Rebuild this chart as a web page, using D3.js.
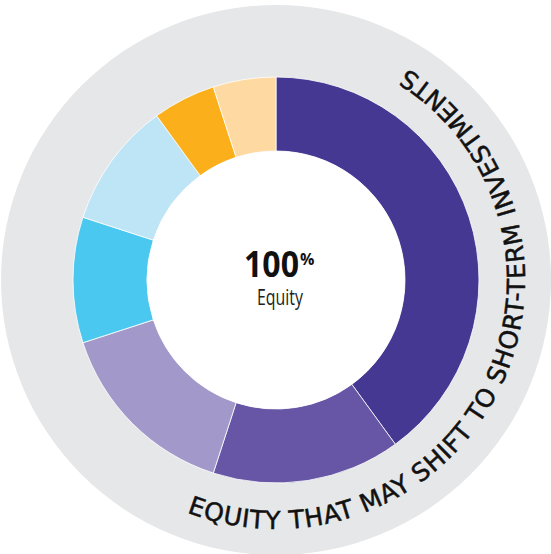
<!DOCTYPE html>
<html>
<head>
<meta charset="utf-8">
<script src="https://cdn.jsdelivr.net/npm/d3@7"></script>
<style>
  html, body { margin: 0; padding: 0; background: #ffffff; }
  svg { display: block; }
</style>
</head>
<body>
<script>
// ---- data ----
const categories = ["Segment 1", "Segment 2", "Segment 3", "Segment 4", "Segment 5", "Segment 6", "Segment 7"];
const values = [40, 15, 15, 10, 10, 5, 5];
const colors = ["#443892", "#6755a5", "#a299ca", "#4bc8ef", "#bde5f6", "#fbaf1a", "#fed9a2"];
const centerValue = "100";
const centerUnit = "%";
const centerLabel = "Equity";
const ringLabel = "EQUITY THAT MAY SHIFT TO SHORT-TERM INVESTMENTS";

// ---- layout ----
const W = 551, H = 554;
const cx = 276, cy = 280;
const bgR = 275, outerR = 203, innerR = 129, textR = 249;
const ringFont = "'DejaVu Sans', sans-serif", ringSize = 25;

const svg = d3.select("body").append("svg").attr("width", W).attr("height", H);
const g = svg.append("g").attr("transform", `translate(${cx},${cy})`);

g.append("circle").attr("r", bgR).attr("fill", "#e6e7e8");

const pie = d3.pie().sort(null).value(d => d.value).startAngle(0).endAngle(2 * Math.PI);
const arc = d3.arc().innerRadius(innerR).outerRadius(outerR);
const data = categories.map((c, i) => ({ name: c, value: values[i], color: colors[i] }));

g.selectAll("path.slice").data(pie(data)).join("path")
  .attr("class", "slice")
  .attr("d", arc)
  .attr("fill", d => d.data.color)
  .attr("stroke", "#ffffff")
  .attr("stroke-width", 0.8);

g.append("circle").attr("r", innerR).attr("fill", "#ffffff");

// center text
g.append("text")
  .attr("x", -32).attr("y", -3)
  .attr("font-family", "'Open Sans', sans-serif")
  .attr("font-weight", 700)
  .attr("font-size", 35)
  .attr("fill", "#111")
  .attr("textLength", 55)
  .attr("lengthAdjust", "spacingAndGlyphs")
  .text(centerValue);
g.append("text")
  .attr("x", 24).attr("y", -15)
  .attr("font-family", "'Open Sans', sans-serif")
  .attr("font-weight", 700)
  .attr("font-size", 16)
  .attr("fill", "#111")
  .text(centerUnit);
g.append("text")
  .attr("x", 4).attr("y", 25)
  .attr("text-anchor", "middle")
  .attr("font-family", "'Open Sans', sans-serif")
  .attr("font-weight", 400)
  .attr("font-size", 21)
  .attr("fill", "#231f20")
  .attr("textLength", 46)
  .attr("lengthAdjust", "spacingAndGlyphs")
  .text(centerLabel);

// curved ring label (counter-clockwise along inner side of gray ring)
const a0 = 201 * Math.PI / 180, a1 = 32 * Math.PI / 180;
const px = a => textR * Math.sin(a), py = a => -textR * Math.cos(a);
const pathStr = `M${px(a0)},${py(a0)} A${textR},${textR} 0 0 0 ${px(a1)},${py(a1)}`;
g.append("path").attr("id", "ringPath").attr("d", pathStr).attr("fill", "none");
const arcLen = textR * (a0 - a1);
const ringText = g.append("text")
  .attr("font-family", ringFont)
  .attr("font-weight", 400)
  .attr("font-size", ringSize)
  .attr("fill", "#111")
  .attr("stroke", "#111")
  .attr("stroke-width", 0.5);
ringText.append("textPath")
  .attr("href", "#ringPath")
  .attr("startOffset", 0)
  .text(ringLabel);
// measure natural length with a straight probe and spread via letter-spacing
const probe = g.append("text")
  .attr("font-family", ringFont)
  .attr("font-weight", 400)
  .attr("font-size", ringSize)
  .attr("opacity", 0)
  .text(ringLabel);
const natural = probe.node().getComputedTextLength();
probe.remove();
const ls = (arcLen - natural) / (ringLabel.length - 1);
ringText.attr("letter-spacing", ls.toFixed(2));
</script>
</body>
</html>
